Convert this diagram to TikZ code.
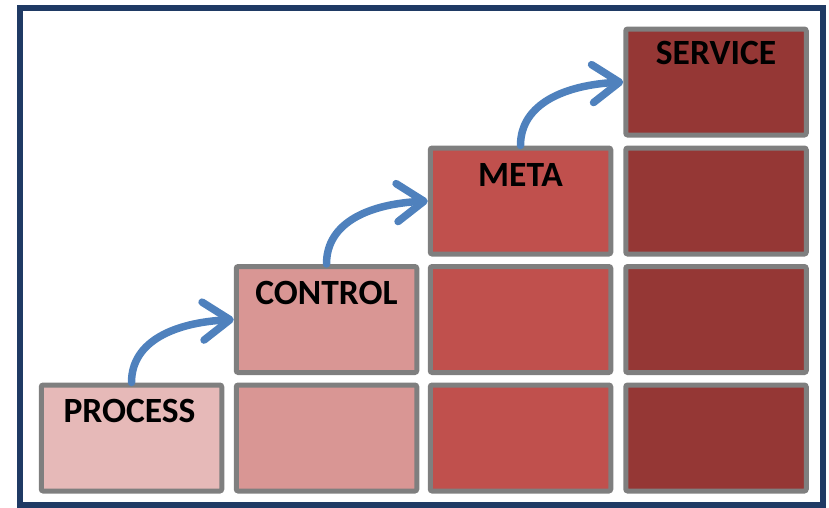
\documentclass[tikz,border=0pt]{standalone}
\usepackage{fontspec}
\setmainfont{Carlito}
\usetikzlibrary{arrows.meta,calc}
\definecolor{frameblue}{HTML}{1F3A64}
\definecolor{boxgray}{HTML}{7F7F7F}
\definecolor{pinkA}{HTML}{E6B9B8}
\definecolor{pinkB}{HTML}{D99694}
\definecolor{redC}{HTML}{C0504D}
\definecolor{redD}{HTML}{953735}
\definecolor{arrowblue}{HTML}{4F81BD}
\begin{document}
\begin{tikzpicture}[x=1pt,y=-1pt,
  cell/.style={draw=boxgray,line width=5pt,rounded corners=2pt,minimum width=180.5pt,minimum height=106pt,inner sep=0pt},
  lbl/.style={font=\bfseries\fontsize{35.5}{42}\selectfont,inner sep=0pt,text=black},
  arr/.style={draw=arrowblue,line width=7.5pt,line cap=round,-{Straight Barb[length=27pt,width=38pt,line cap=round,line join=round]}}]
\useasboundingbox (0,0) rectangle (829,507);
\draw[frameblue,line width=6pt] (20,8) rectangle (823,505);
% column 1
\node[cell,fill=pinkA] (c1r4) at (131.5,438) {};
% column 2
\node[cell,fill=pinkB] (c2r3) at (326.5,319.5) {};
\node[cell,fill=pinkB] (c2r4) at (326.5,438) {};
% column 3
\node[cell,fill=redC] (c3r2) at (520.5,201) {};
\node[cell,fill=redC] (c3r3) at (520.5,319.5) {};
\node[cell,fill=redC] (c3r4) at (520.5,438) {};
% column 4
\node[cell,fill=redD] (c4r1) at (716,82) {};
\node[cell,fill=redD] (c4r2) at (716,201) {};
\node[cell,fill=redD] (c4r3) at (716,319.5) {};
\node[cell,fill=redD] (c4r4) at (716,438) {};
% labels
\node[lbl] (tp) at ($(c1r4.north)+(-2,28)$) {PROCESS};
\node[lbl] (tc) at ($(c2r3.north)+(0,28.5)$) {CONTROL};
\node[lbl] (tm) at ($(c3r2.north)+(0,29)$) {META};
\node[lbl] (ts) at ($(c4r1.north)+(0,26.5)$) {SERVICE};
% arrows
\draw[arr] (c1r4.north) .. controls +(0,-42) and +(-58,3) .. (c2r3.west);
\draw[arr] (c2r3.north) .. controls +(0,-42) and +(-58,3) .. (c3r2.west);
\draw[arr] (c3r2.north) .. controls +(0,-42) and +(-58,3) .. (c4r1.west);
\end{tikzpicture}
\end{document}
